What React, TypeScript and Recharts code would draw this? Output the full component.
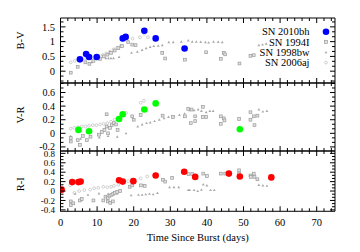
import React from "react";
import { ScatterChart, Scatter, XAxis, YAxis, Legend, Label } from "recharts";

const FONT = "'Liberation Serif', 'Times New Roman', serif";
const THIN = 0.01;

// time since burst (days), ticks
const xTicks = Array.from({ length: 38 }, (_, i) => i * 2);

// B-V
const bv2010bh = [[5.3, 0.4], [7.0, 0.58], [7.8, 0.48], [9.9, 0.48], [17.0, 1.11], [17.8, 1.16], [22.9, 1.37], [26.0, 1.11], [33.9, 0.77]];
const bv1994I = [[2.8, -0.05], [4.7, 0.15], [6.8, 0.3], [7.9, 0.25], [9.0, 0.35], [10.8, 0.42], [11.8, 0.5], [12.8, 0.56], [13.8, 0.62], [14.8, 0.7], [15.8, 0.78], [16.8, 0.85], [18.5, 0.98], [19.6, 0.9], [20.5, 0.88], [27.8, 0.62], [28.6, 0.43], [34.0, 0.39], [39.8, 0.64], [43.8, 0.42], [44.6, 0.62], [45.0, 0.57], [48.9, 0.26], [51.9, 0.52], [52.8, 0.54]];
const bv1998bw = [[8.5, 0.3], [10.8, 0.4], [12.4, 0.44], [13.1, 0.44], [13.8, 0.44], [14.5, 0.44], [16.0, 0.48], [19.4, 0.62], [21.0, 0.66], [22.3, 0.72], [23.4, 0.78], [24.5, 0.82], [25.5, 0.85], [26.7, 0.86], [27.8, 0.88], [29.6, 0.98], [30.8, 0.98], [33.0, 1.0], [34.9, 1.04], [36.0, 1.0], [37.1, 1.0], [38.3, 0.99], [39.6, 0.98], [40.5, 0.97], [41.8, 1.0], [43.1, 0.99], [44.2, 0.98], [54.2, 0.88], [55.2, 0.9], [56.2, 0.93]];
const bv2006aj = [[2.8, 0.3], [3.9, 0.35], [5.0, 0.37], [6.0, 0.4], [7.0, 0.42], [8.2, 0.43], [9.3, 0.46], [10.5, 0.5], [11.5, 0.55], [12.5, 0.6], [13.5, 0.66], [14.5, 0.74], [15.5, 0.8], [16.5, 0.86], [18.3, 1.02], [19.7, 1.1], [21.7, 1.15], [22.9, 1.27], [23.9, 1.15]];

// V-R
const vr2010bh = [[4.9, 0.05], [7.8, 0.03], [16.0, 0.21], [17.0, 0.28], [22.9, 0.35], [26.0, 0.44], [49.0, 0.06]];
const vr1994I = [[2.8, -0.07], [2.8, -0.12], [4.7, -0.1], [5.3, -0.17], [6.1, -0.04], [7.2, -0.1], [8.2, -0.05], [10.5, -0.02], [11.3, 0.02], [12.0, 0.05], [12.6, 0.1], [13.0, 0.0], [13.5, 0.08], [14.0, 0.12], [14.6, 0.15], [15.2, 0.13], [15.6, 0.05], [12.6, 0.28], [19.6, 0.25], [20.0, 0.2], [21.9, 0.27], [27.9, 0.26], [30.7, 0.24], [34.0, 0.25], [34.9, 0.36], [35.8, 0.35], [35.6, 0.15], [36.8, 0.25], [36.8, 0.18], [38.9, 0.39], [38.9, 0.24], [39.8, 0.24], [43.8, 0.25], [43.8, 0.14], [44.6, 0.22], [44.8, 0.19], [48.8, 0.21], [51.9, 0.31], [51.9, 0.2], [52.8, 0.25], [53.0, 0.12], [53.8, 0.26]];
const vr1998bw = [[2.8, -0.04], [5.5, -0.08], [8.0, -0.05], [10.6, -0.06], [13.0, -0.04], [15.5, -0.05], [17.9, 0.0], [21.1, 0.1], [22.3, 0.13], [23.5, 0.15], [24.5, 0.16], [25.7, 0.18], [27.0, 0.2], [28.3, 0.22], [29.5, 0.24], [31.0, 0.25], [32.5, 0.27], [33.9, 0.29], [35.3, 0.34], [36.5, 0.34], [37.6, 0.35], [38.5, 0.33], [39.8, 0.31], [40.8, 0.33], [41.7, 0.33], [54.2, 0.35], [55.3, 0.32], [56.4, 0.33]];
const vr2006aj = [[2.8, 0.07], [3.8, 0.08], [4.8, 0.09], [5.8, 0.1], [6.8, 0.1], [7.8, 0.11], [8.8, 0.12], [9.8, 0.12], [10.8, 0.13], [11.8, 0.14], [12.8, 0.15], [13.8, 0.17], [14.8, 0.2], [15.8, 0.23], [16.8, 0.26], [17.9, 0.3], [21.9, 0.45], [22.8, 0.48]];

// R-I
const ri2010bh = [[0.3, 0.03], [3.2, 0.19], [4.9, 0.19], [5.5, 0.2], [16.0, 0.23], [17.0, 0.2], [19.9, 0.21], [26.0, 0.33], [33.8, 0.41], [36.8, 0.3], [46.0, 0.37], [49.0, 0.31], [57.6, 0.29]];
const ri1994I = [[2.8, -0.22], [2.8, -0.3], [3.5, -0.26], [5.3, -0.2], [5.8, -0.17], [9.0, -0.2], [11.7, -0.2], [12.3, -0.12], [12.9, -0.15], [13.4, -0.1], [13.9, -0.08], [14.4, -0.06], [14.9, -0.04], [15.5, -0.02], [16.3, 0.0], [12.9, -0.22], [13.6, -0.25], [14.3, -0.22], [18.9, 0.09], [19.6, 0.12], [22.0, 0.12], [23.0, 0.11], [28.0, 0.24], [28.6, 0.2], [30.5, 0.28], [35.0, 0.36], [36.0, 0.36], [39.0, 0.37], [40.0, 0.32], [43.8, 0.37], [45.0, 0.37], [48.8, 0.44], [48.8, 0.37], [51.9, 0.33], [52.8, 0.37], [52.0, 0.3], [53.0, 0.3], [53.8, 0.25]];
const ri1998bw = [[4.0, -0.06], [7.5, -0.08], [10.5, -0.05], [13.0, -0.06], [15.5, -0.05], [19.3, -0.09], [21.3, -0.08], [22.3, -0.08], [23.3, -0.07], [24.3, -0.06], [25.3, -0.07], [26.5, -0.04], [29.8, 0.08], [31.0, 0.08], [32.3, 0.08], [34.9, 0.02], [35.3, 0.02], [36.5, 0.02], [37.5, 0.0], [38.5, 0.03], [39.0, 0.14], [40.0, 0.12], [41.0, 0.02], [42.0, 0.02], [54.2, 0.13], [55.3, 0.12], [56.4, 0.11]];
const ri2006aj = [[2.6, 0.12], [3.8, -0.04], [5.1, 0.0], [6.5, 0.02], [8.1, 0.03], [9.2, 0.06], [10.3, 0.07], [11.7, 0.09], [12.8, 0.08], [13.8, 0.09], [14.6, 0.11], [15.8, 0.13], [18.5, 0.21], [19.5, 0.24], [21.9, 0.27], [23.7, 0.31]];

const pts = (a: number[][]) => a.map(([t, c]) => ({ t, c }));
const near = (v: number, step: number) => Math.abs(v / step - Math.round(v / step)) < 1e-6;
const fmt = (v: number) => String(Number(v.toFixed(2)));

const yTicks = (lo: number, hi: number, step: number) => {
  const out: number[] = [];
  for (let k = Math.ceil(lo / step - 1e-9); k <= Math.floor(hi / step + 1e-9); k++) out.push(Number((k * step).toFixed(4)));
  return out;
};

const Dot = (color: string) => (p: any) => <circle cx={p.cx} cy={p.cy} r={3.3} fill={color} />;
const Box = (p: any) => (
  <rect x={p.cx - 1.4} y={p.cy - 1.4} width={2.8} height={2.8} fill="#e2e2e2" stroke="#9a9a9a" strokeWidth={0.7} />
);
const Ring = (p: any) => <circle cx={p.cx} cy={p.cy} r={1.4} fill="#fff" stroke="#bdbdbd" strokeWidth={0.7} />;
const Tri = (p: any) => (
  <path d={`M${p.cx},${p.cy - 1.4}L${p.cx + 1.4},${p.cy + 1}L${p.cx - 1.4},${p.cy + 1}Z`} fill="#a8a8a8" />
);

const XTick = (props: any) => {
  const { x, y, payload, side, showLabel } = props;
  const v = payload.value;
  const major = near(v, 10);
  const dir = side === "bottom" ? -1 : 1;
  return (
    <g>
      <line x1={x} x2={x} y1={y} y2={y + dir * (major ? 5 : 3)} stroke="#000" />
      {showLabel && major && (
        <text x={x} y={y + 11.2} dy="0.35em" textAnchor="middle" fontSize={10.5} fill="#000">
          {v}
        </text>
      )}
    </g>
  );
};

const YTick = (props: any) => {
  const { x, y, payload, side, majorStep, fontSize } = props;
  const v = payload.value;
  const major = near(v, majorStep);
  const dir = side === "left" ? 1 : -1;
  return (
    <g>
      <line x1={x} x2={x + dir * (major ? 5 : 3)} y1={y} y2={y} stroke="#000" />
      {side === "left" && major && (
        <text x={x - 5.5} y={y} dy="0.35em" textAnchor="end" fontSize={fontSize} fill="#000">
          {fmt(v)}
        </text>
      )}
    </g>
  );
};

const legendItems = [
  { name: "SN 2010bh", shape: Dot("#0000ff") },
  { name: "SN 1994I", shape: Box },
  { name: "SN 1998bw", shape: Tri },
  { name: "SN 2006aj", shape: Ring },
];

const LegendBox = () => (
  <svg width={360} height={80} style={{ pointerEvents: "none" }}>
    {legendItems.map((it, i) => {
      const y = 31.7 + i * 10.3;
      return (
        <g key={it.name}>
          <text x={309.5} y={y} dy="0.35em" textAnchor="end" fontSize={10.5} fill="#000">
            {it.name}
          </text>
          {it.shape({ cx: 326, cy: y })}
        </g>
      );
    })}
  </svg>
);

function Panel(props: any) {
  const { top, bottom, domain, majorStep, labelSize, title, titleDy, color, box, tri, ring, showX, legend } = props;
  const ticks = yTicks(domain[0], domain[1], majorStep / 3);
  return (
    <div style={{ position: "absolute", left: 0, top: 0 }}>
      <ScatterChart width={360} height={252} margin={{ top, bottom, left: 60.5, right: 25 }}>
        <XAxis
          xAxisId="b"
          type="number"
          dataKey="t"
          orientation="bottom"
          domain={[0, 75]}
          allowDataOverflow
          ticks={xTicks}
          interval={0}
          height={THIN}
          tickSize={0}
          tickMargin={0}
          tickLine={false}
          axisLine={{ stroke: "#000" }}
          tick={(p: any) => <XTick {...p} side="bottom" showLabel={showX} />}
        >
          {showX && <Label value="Time Since Burst (days)" position="center" dy={26} fill="#000" fontSize={10.5} />}
        </XAxis>
        <XAxis
          xAxisId="t"
          type="number"
          dataKey="t"
          orientation="top"
          domain={[0, 75]}
          allowDataOverflow
          ticks={xTicks}
          interval={0}
          height={THIN}
          tickSize={0}
          tickMargin={0}
          tickLine={false}
          axisLine={{ stroke: "#000" }}
          tick={(p: any) => <XTick {...p} side="top" />}
        />
        <YAxis
          yAxisId="l"
          type="number"
          dataKey="c"
          orientation="left"
          domain={domain}
          allowDataOverflow
          ticks={ticks}
          interval={0}
          width={THIN}
          tickSize={0}
          tickMargin={0}
          tickLine={false}
          axisLine={{ stroke: "#000" }}
          tick={(p: any) => <YTick {...p} side="left" majorStep={majorStep} fontSize={labelSize} />}
        >
          <Label value={title} angle={-90} position="center" dx={-40.5} dy={titleDy} fill="#000" fontSize={10.5} />
        </YAxis>
        <YAxis
          yAxisId="r"
          type="number"
          dataKey="c"
          orientation="right"
          domain={domain}
          allowDataOverflow
          ticks={ticks}
          interval={0}
          width={THIN}
          tickSize={0}
          tickMargin={0}
          tickLine={false}
          axisLine={{ stroke: "#000" }}
          tick={(p: any) => <YTick {...p} side="right" majorStep={majorStep} />}
        />
        <Scatter name="SN 2006aj" data={pts(ring)} xAxisId="b" yAxisId="l" shape={Ring} isAnimationActive={false} />
        <Scatter name="SN 1998bw" data={pts(tri)} xAxisId="b" yAxisId="l" shape={Tri} isAnimationActive={false} />
        <Scatter name="SN 1994I" data={pts(box)} xAxisId="b" yAxisId="l" shape={Box} isAnimationActive={false} />
        <Scatter name="SN 2010bh" data={pts(color.data)} xAxisId="b" yAxisId="l" shape={Dot(color.fill)} isAnimationActive={false} />
        {legend && (
          <Legend
            layout="vertical"
            align="center"
            verticalAlign="middle"
            content={() => <LegendBox />}
            wrapperStyle={{ left: 0, top: 0, width: 360, height: 80, pointerEvents: "none" }}
          />
        )}
      </ScatterChart>
    </div>
  );
}

export default function App() {
  return (
    <div style={{ position: "absolute", left: 0, top: 0, width: 360, height: 252, background: "#fff", fontFamily: FONT }}>
      <Panel
        top={18}
        bottom={169}
        domain={[-0.4, 1.8]}
        majorStep={0.5}
        labelSize={10.5}
        title="B-V"
        titleDy={-10}
        color={{ data: bv2010bh, fill: "#0000ff" }}
        box={bv1994I}
        tri={bv1998bw}
        ring={bv2006aj}
        legend
      />
      <Panel
        top={83}
        bottom={101}
        domain={[-0.26, 0.74]}
        majorStep={0.2}
        labelSize={10}
        title="V-R"
        titleDy={-2}
        color={{ data: vr2010bh, fill: "#00ff00" }}
        box={vr1994I}
        tri={vr1998bw}
        ring={vr2006aj}
      />
      <Panel
        top={151}
        bottom={40.7}
        domain={[-0.43, 0.85]}
        majorStep={0.2}
        labelSize={9}
        title="R-I"
        titleDy={3}
        color={{ data: ri2010bh, fill: "#ff0000" }}
        box={ri1994I}
        tri={ri1998bw}
        ring={ri2006aj}
        showX
      />
    </div>
  );
}
